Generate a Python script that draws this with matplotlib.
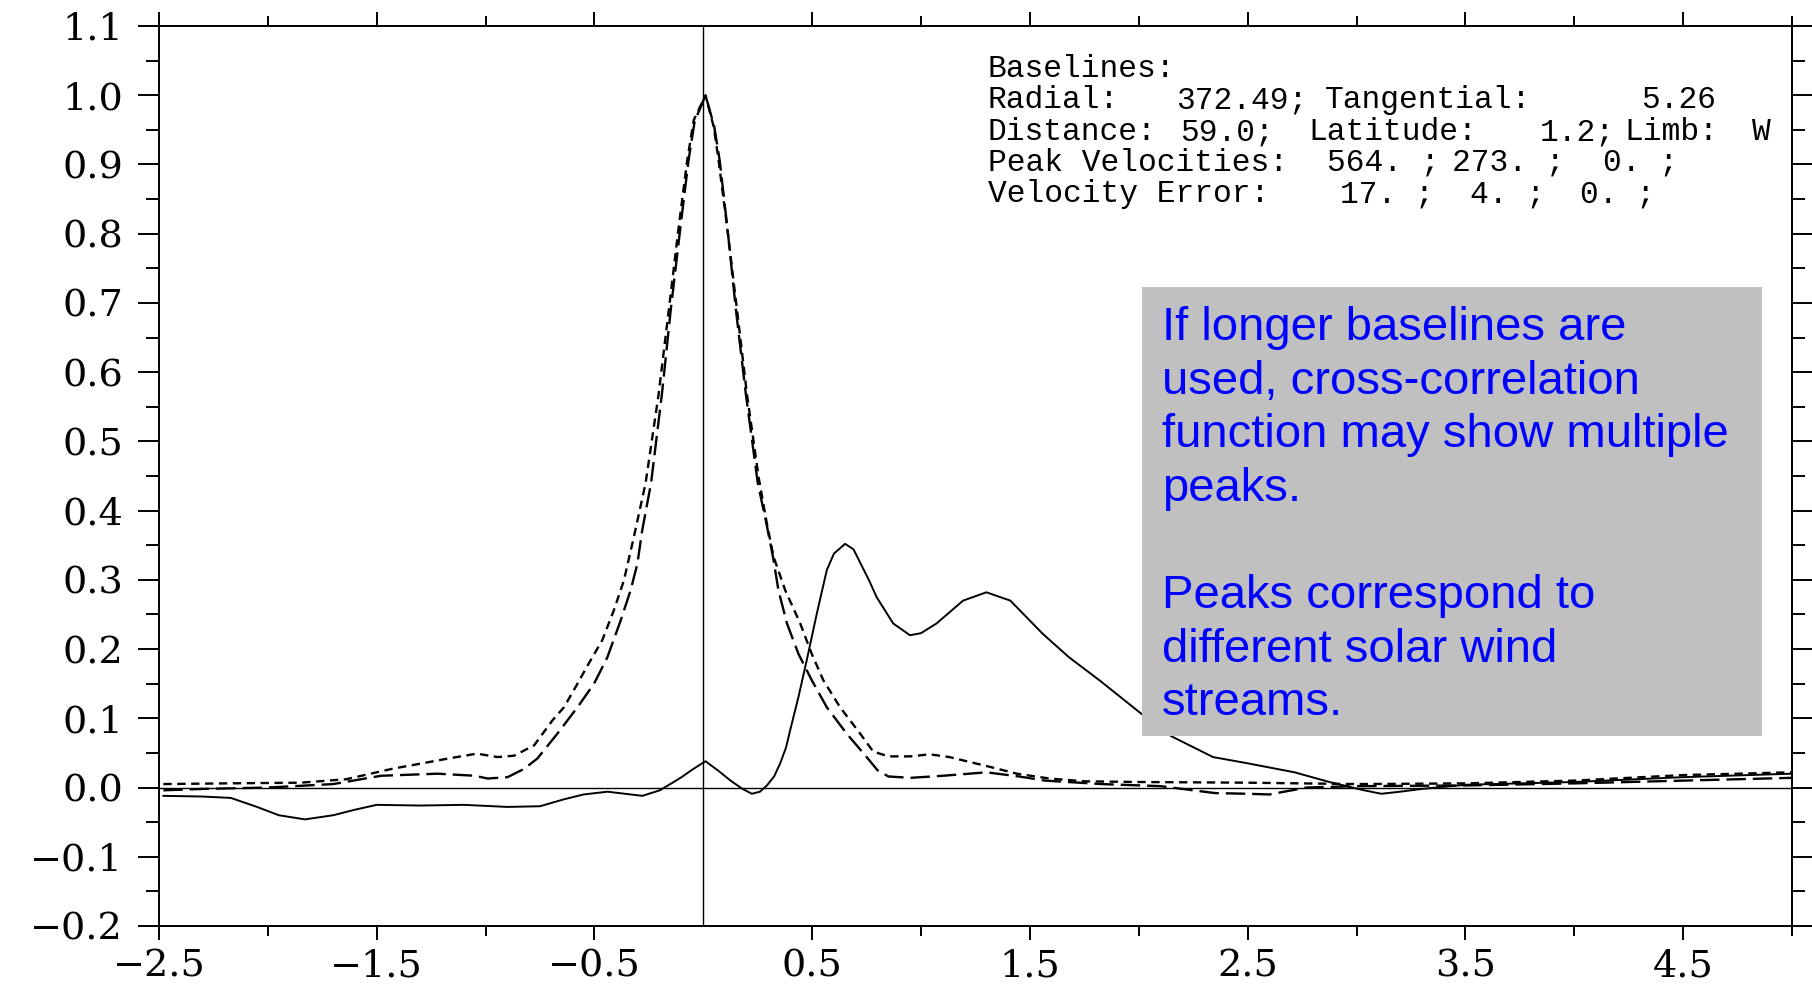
import matplotlib
matplotlib.use('Agg')
import matplotlib.pyplot as plt
from matplotlib.ticker import FixedLocator
from matplotlib.patches import Rectangle

# solid curve (tangential / long baseline)
solid_x = [-2.48, -2.3, -2.17, -2.05, -1.95, -1.83, -1.7, -1.6, -1.5, -1.3, -1.1, -0.9, -0.75,
           -0.64, -0.55, -0.44, -0.36, -0.28, -0.2, -0.136, -0.1, -0.05, 0.01, 0.07, 0.125, 0.18,
           0.223, 0.26, 0.292, 0.325, 0.353, 0.38, 0.399, 0.437, 0.475, 0.521, 0.567, 0.6, 0.651,
           0.69, 0.72, 0.76, 0.796, 0.872, 0.949, 1.0, 1.071, 1.193, 1.3, 1.41, 1.559, 1.68, 1.819,
           2.01, 2.15, 2.341, 2.5, 2.715, 2.875, 3.035, 3.114, 3.2, 3.3, 3.5, 4.0, 4.5, 5.0]
solid_y = [-0.012, -0.013, -0.015, -0.028, -0.040, -0.046, -0.040, -0.032, -0.025, -0.026, -0.025,
           -0.028, -0.027, -0.017, -0.010, -0.006, -0.009, -0.012, -0.004, 0.008, 0.015, 0.026,
           0.038, 0.024, 0.010, -0.002, -0.009, -0.006, 0.003, 0.016, 0.035, 0.058, 0.083, 0.131,
           0.184, 0.251, 0.314, 0.338, 0.352, 0.344, 0.325, 0.300, 0.275, 0.237, 0.220, 0.223,
           0.237, 0.270, 0.282, 0.270, 0.222, 0.188, 0.155, 0.107, 0.074, 0.044, 0.035, 0.022,
           0.008, -0.004, -0.009, -0.006, -0.002, 0.004, 0.008, 0.015, 0.020]

# short-dashed curve
a_x = [-2.48, -2.2, -1.85, -1.64, -1.43, -1.17, -1.04, -0.945, -0.869, -0.777, -0.693, -0.64,
       -0.578, -0.532, -0.464, -0.411, -0.365, -0.319, -0.265, -0.205, -0.159, -0.113, -0.074,
       -0.044, 0.01, 0.048, 0.07, 0.109, 0.155, 0.2, 0.254, 0.292, 0.323, 0.376, 0.445, 0.498,
       0.551, 0.628, 0.72, 0.78, 0.85, 0.95, 1.04, 1.13, 1.315, 1.44, 1.59, 1.75, 2.0, 2.5, 3.0,
       3.5, 4.0, 4.5, 5.0]
a_y = [0.005, 0.006, 0.007, 0.012, 0.027, 0.042, 0.049, 0.044, 0.046, 0.061, 0.097, 0.116,
       0.150, 0.176, 0.213, 0.256, 0.299, 0.362, 0.440, 0.569, 0.689, 0.81, 0.906, 0.964, 1.0,
       0.954, 0.906, 0.81, 0.689, 0.569, 0.448, 0.381, 0.333, 0.285, 0.237, 0.193, 0.155,
       0.116, 0.078, 0.052, 0.045, 0.045, 0.048, 0.044, 0.030, 0.020, 0.013, 0.009, 0.008,
       0.007, 0.005, 0.006, 0.010, 0.018, 0.022]

# long-dashed curve
b_x = [-2.48, -2.3, -2.0, -1.7, -1.48, -1.22, -1.05, -0.99, -0.899, -0.823, -0.762, -0.67,
       -0.578, -0.502, -0.441, -0.38, -0.334, -0.303, -0.281, -0.24, -0.19, -0.15, -0.105,
       -0.068, -0.04, 0.01, 0.05, 0.075, 0.11, 0.15, 0.195, 0.25, 0.29, 0.32, 0.345, 0.384,
       0.437, 0.498, 0.567, 0.658, 0.75, 0.8, 0.85, 0.95, 1.1, 1.3, 1.45, 1.57, 1.83, 2.1, 2.35,
       2.5, 2.6, 2.77, 3.0, 3.5, 4.0, 4.5, 5.0]
b_y = [-0.004, -0.002, 0.0, 0.005, 0.017, 0.020, 0.017, 0.013, 0.015, 0.027, 0.042, 0.078,
       0.116, 0.150, 0.188, 0.241, 0.285, 0.323, 0.371, 0.44, 0.569, 0.689, 0.81, 0.906, 0.962,
       1.0, 0.955, 0.906, 0.81, 0.689, 0.569, 0.440, 0.381, 0.333, 0.285, 0.237, 0.193, 0.155,
       0.116, 0.078, 0.044, 0.025, 0.016, 0.014, 0.017, 0.022, 0.016, 0.010, 0.005, 0.002,
       -0.008, -0.009, -0.010, 0.0, 0.002, 0.003, 0.006, 0.010, 0.014]

x_major = [-2.5, -1.5, -0.5, 0.5, 1.5, 2.5, 3.5, 4.5]
x_labels = ['\u22122.5', '\u22121.5', '\u22120.5', '0.5', '1.5', '2.5', '3.5', '4.5']
x_minor = [-2, -1, 1, 2, 3, 4, 5]
y_major = [-0.2, -0.1, 0.0, 0.1, 0.2, 0.3, 0.4, 0.5, 0.6, 0.7, 0.8, 0.9, 1.0, 1.1]
y_labels = ['\u22120.2', '\u22120.1', '0.0', '0.1', '0.2', '0.3', '0.4', '0.5', '0.6', '0.7',
            '0.8', '0.9', '1.0', '1.1']
y_minor = [-0.15, -0.05, 0.05, 0.15, 0.25, 0.35, 0.45, 0.55, 0.65, 0.75, 0.85, 0.95, 1.05]

# header lines: (x pixel, text) segments
info_lines = [
    [(988, 'Baselines:')],
    [(988, 'Radial:'), (1176, '372.49;'), (1325, 'Tangential:'), (1641, '5.26')],
    [(988, 'Distance:'), (1180, '59.0;'), (1308, 'Latitude:'), (1540, '1.2;'),
     (1624, 'Limb:'), (1752, 'W')],
    [(988, 'Peak Velocities:'), (1327, '564. ;'), (1452, '273. ;'), (1603, '0. ;')],
    [(988, 'Velocity Error:'), (1340, '17. ;'), (1470, '4. ;'), (1580, '0. ;')],
]
info_base = [77, 108, 140, 171, 202]

note_lines = ['If longer baselines are', 'used, cross-correlation', 'function may show multiple',
              'peaks.', '', 'Peaks correspond to', 'different solar wind', 'streams.']

plt.rcParams['lines.scale_dashes'] = False
W, H = 1812, 989
fig = plt.figure(figsize=(W / 100, H / 100), dpi=100)
ax = fig.add_axes([159 / W, 1 - 926 / H, 1633 / W, 900 / H])

ax.plot(solid_x, solid_y, color='black', lw=1.4)
ax.plot(a_x, a_y, color='black', lw=1.7, dashes=(6, 4))
ax.plot(b_x, b_y, color='black', lw=1.7, dashes=(14, 5))
ax.axhline(0, color='black', lw=1.0)
ax.axvline(0, color='black', lw=1.0)

ax.set_xlim(-2.5, 5.0)
ax.set_ylim(-0.2, 1.1)
ax.set_xticks(x_major)
ax.set_xticklabels(x_labels)
ax.xaxis.set_minor_locator(FixedLocator(x_minor))
ax.set_yticks(y_major)
ax.set_yticklabels(y_labels)
ax.yaxis.set_minor_locator(FixedLocator(y_minor))

for s in ax.spines.values():
    s.set_linewidth(1.4)
ax.tick_params(which='both', direction='out', top=True, right=True, width=1.4)
ax.tick_params(axis='y', which='major', length=15, pad=11)
ax.tick_params(axis='y', which='minor', length=9.4)
ax.tick_params(axis='x', which='major', length=10, pad=6)
ax.tick_params(axis='x', which='minor', length=7)
for lab in ax.get_xticklabels() + ax.get_yticklabels():
    lab.set_fontfamily('DejaVu Serif')
    lab.set_fontsize(27.5)

ax.add_patch(Rectangle((0.602, 0.2111), 0.3797, 0.4989, transform=ax.transAxes,
                       facecolor='#c0c0c0', edgecolor='none', zorder=5))

for segs, yb in zip(info_lines, info_base):
    for xp, txt in segs:
        fig.text(xp / W, 1 - yb / H, txt, family='Liberation Mono', fontsize=22.5,
                 va='baseline', ha='left', color='black')

for i, line in enumerate(note_lines):
    fig.text(1162 / W, 1 - (340 + i * 53.6) / H, line, family='Liberation Sans',
             fontsize=34, color='#0000ff', va='baseline', ha='left')

fig.savefig('out.png', dpi=100)
